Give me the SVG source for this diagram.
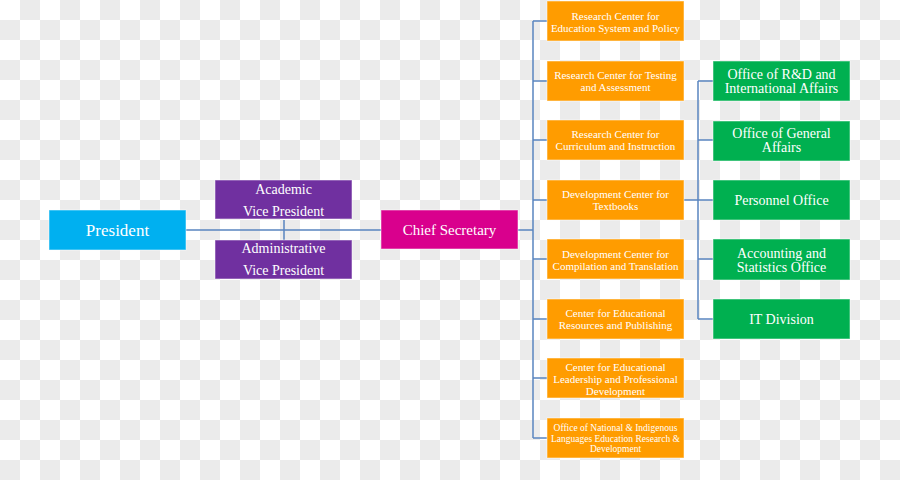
<svg xmlns="http://www.w3.org/2000/svg" width="900" height="480" viewBox="0 0 900 480">
<defs>
<pattern id="chk" width="40" height="40" patternUnits="userSpaceOnUse">
<rect width="40" height="40" fill="#ffffff"/>
<rect x="20" y="0" width="20" height="20" fill="#ebebeb"/>
<rect x="0" y="20" width="20" height="20" fill="#ebebeb"/>
</pattern>
<style>
.box{stroke:#ffffff;stroke-opacity:0.5;stroke-width:1}
.cyan{fill:#00b0f0}.purple{fill:#7030a0}.mag{fill:#d9008d}.org{fill:#ff9c00}.grn{fill:#00b050}
text{font-family:"Liberation Serif","Times New Roman",serif;fill:#ffffff;text-anchor:middle}
.t11{font-size:11px}.t9{font-size:9.5px}.t14{font-size:14px}.t15{font-size:15px}.t17{font-size:17px}
.ln{stroke:#5a85c0;stroke-width:1.5;fill:none}
</style>
</defs>
<rect width="900" height="480" fill="url(#chk)"/>
<g id="connectors">
<path class="ln" d="M186 230H381M284 220V240M518 230H533M533 21V438M533 21H547M533 81H547M533 140H547M533 200H547M533 259H547M533 319H547M533 378H547M533 438H547M684 200H698M698 81V319M698 81H713M698 140H713M698 200H713M698 259H713M698 319H713"/>
</g>
<g id="president"><rect class="box cyan" x="49" y="210" width="137" height="40"/><text class="t17" x="117.5" y="236">President</text></g>
<g id="academic-vp"><rect class="box purple" x="215" y="180" width="137" height="39"/><text class="t14" x="283.5" y="194">Academic</text><text class="t14" x="283.5" y="216">Vice President</text></g>
<g id="administrative-vp"><rect class="box purple" x="215" y="240" width="137" height="39"/><text class="t14" x="283.5" y="253">Administrative</text><text class="t14" x="283.5" y="275">Vice President</text></g>
<g id="chief-secretary"><rect class="box mag" x="381" y="210" width="137" height="39"/><text class="t15" x="449.5" y="235">Chief Secretary</text></g>
<g id="o1"><rect class="box org" x="547" y="1" width="137" height="40"/><text class="t11" x="615.5" y="19.5">Research Center for</text><text class="t11" x="615.5" y="31.5">Education System and Policy</text></g>
<g id="o2"><rect class="box org" x="547" y="61" width="137" height="40"/><text class="t11" x="615.5" y="79">Research Center for Testing</text><text class="t11" x="615.5" y="91">and Assessment</text></g>
<g id="o3"><rect class="box org" x="547" y="120" width="137" height="40"/><text class="t11" x="615.5" y="138">Research Center for</text><text class="t11" x="615.5" y="150">Curriculum and Instruction</text></g>
<g id="o4"><rect class="box org" x="547" y="180" width="137" height="40"/><text class="t11" x="615.5" y="198">Development Center for</text><text class="t11" x="615.5" y="210">Textbooks</text></g>
<g id="o5"><rect class="box org" x="547" y="239" width="137" height="40"/><text class="t11" x="615.5" y="258">Development Center for</text><text class="t11" x="615.5" y="270">Compilation and Translation</text></g>
<g id="o6"><rect class="box org" x="547" y="299" width="137" height="40"/><text class="t11" x="615.5" y="317">Center for Educational</text><text class="t11" x="615.5" y="329">Resources and Publishing</text></g>
<g id="o7"><rect class="box org" x="547" y="358" width="137" height="40"/><text class="t11" x="615.5" y="371">Center for Educational</text><text class="t11" x="615.5" y="383">Leadership and Professional</text><text class="t11" x="615.5" y="395">Development</text></g>
<g id="o8"><rect class="box org" x="547" y="418" width="137" height="40"/><text class="t9" x="615.5" y="431">Office of National &amp; Indigenous</text><text class="t9" x="615.5" y="441.5">Languages Education Research &amp;</text><text class="t9" x="615.5" y="451.5">Development</text></g>
<g id="g1"><rect class="box grn" x="713" y="61" width="137" height="40"/><text class="t14" x="781.5" y="79">Office of R&amp;D and</text><text class="t14" x="781.5" y="93">International Affairs</text></g>
<g id="g2"><rect class="box grn" x="713" y="121" width="137" height="40"/><text class="t14" x="781.5" y="138">Office of General</text><text class="t14" x="781.5" y="152">Affairs</text></g>
<g id="g3"><rect class="box grn" x="713" y="180" width="137" height="40"/><text class="t14" x="781.5" y="205">Personnel Office</text></g>
<g id="g4"><rect class="box grn" x="713" y="239" width="137" height="41"/><text class="t14" x="781.5" y="258">Accounting and</text><text class="t14" x="781.5" y="272">Statistics Office</text></g>
<g id="g5"><rect class="box grn" x="713" y="299" width="137" height="40"/><text class="t14" x="781.5" y="324">IT Division</text></g>
</svg>
